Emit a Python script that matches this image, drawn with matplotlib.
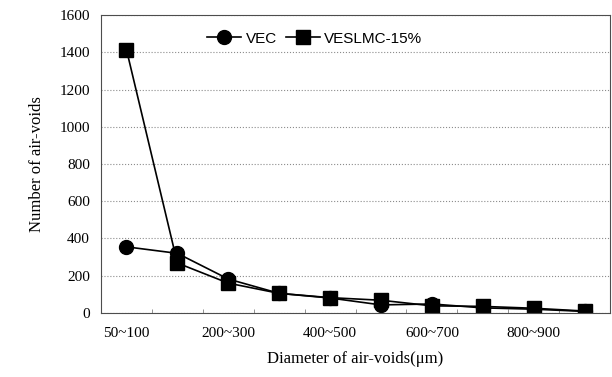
import numpy as np
import matplotlib.pyplot as plt

# Diameter classes (um)
categories = ['50~100', '100~200', '200~300', '300~400', '400~500',
              '500~600', '600~700', '700~800', '800~900', '900~1000']
vec = [355, 320, 182, 105, 80, 43, 48, 27, 20, 8]
veslmc = [1415, 268, 160, 105, 82, 68, 38, 35, 25, 10]

fig = plt.figure(figsize=(6.12, 3.77), dpi=100)
ax = fig.add_axes([0.165, 0.170, 0.832, 0.790])

x = np.arange(len(categories))
ax.plot(x, vec, 'k-', marker='o', markersize=10, lw=1.2, label='VEC')
ax.plot(x, veslmc, 'k-', marker='s', markersize=10, lw=1.2, label='VESLMC-15%')

ax.set_xlim(-0.5, len(categories) - 0.5)
ax.set_ylim(0, 1600)
ax.set_yticks(np.arange(0, 1601, 200))
ax.set_xticks(x[::2])
ax.set_xticklabels(categories[::2])
ax.set_xticks(np.arange(-0.5, len(categories), 1), minor=True)
ax.tick_params(axis='x', which='major', length=0, pad=10)
ax.tick_params(axis='x', which='minor', direction='in', length=3, color='0.5')
ax.tick_params(axis='y', length=0, pad=8)
for lab in ax.get_xticklabels() + ax.get_yticklabels():
    lab.set_fontfamily('Liberation Serif')
    lab.set_fontsize(11)

ax.grid(axis='y', linestyle=':', color='0.55', lw=0.8)
for s in ax.spines.values():
    s.set_color('0.3')
    s.set_linewidth(0.8)

ax.set_xlabel('Diameter of air-voids(μm)', family='Liberation Serif', fontsize=12, labelpad=8)
ax.set_ylabel('Number of air-voids', family='Liberation Serif', fontsize=12, labelpad=10)

ax.legend(loc='upper center', ncol=2, frameon=False,
          prop={'family': 'Liberation Sans', 'size': 11},
          handlelength=2.2, handletextpad=0.3, columnspacing=0.6,
          bbox_to_anchor=(0.42, 0.99))

fig.savefig('out.png', dpi=100)
